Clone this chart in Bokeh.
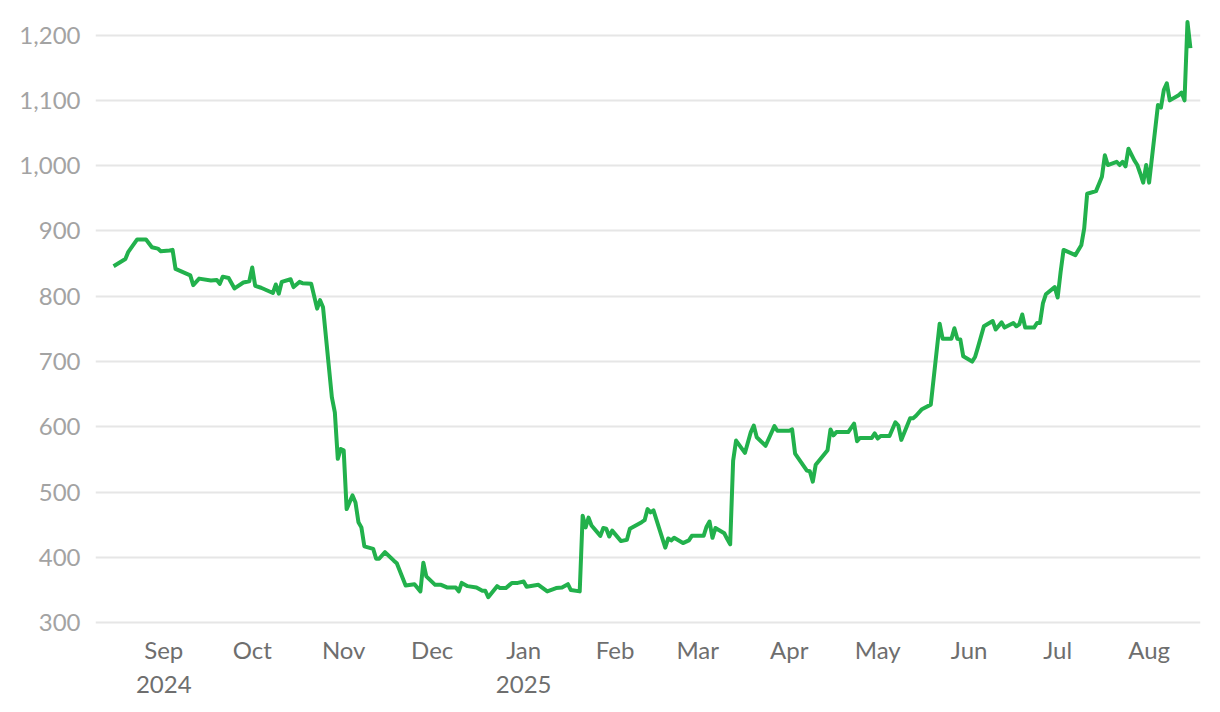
import pandas as pd
from bokeh.plotting import figure
from bokeh.models import FixedTicker, NumeralTickFormatter, Range1d
from bokeh.embed import file_html
from bokeh.resources import INLINE

dates = [
    "2024-08-29", "2024-09-02", "2024-09-03", "2024-09-06", "2024-09-09", "2024-09-11", "2024-09-13",
    "2024-09-14", "2024-09-17", "2024-09-18", "2024-09-19", "2024-09-24", "2024-09-25", "2024-09-27",
    "2024-10-01", "2024-10-03", "2024-10-04", "2024-10-05", "2024-10-07", "2024-10-09", "2024-10-12",
    "2024-10-14", "2024-10-15", "2024-10-16", "2024-10-18", "2024-10-22", "2024-10-23", "2024-10-24",
    "2024-10-25", "2024-10-28", "2024-10-29", "2024-10-31", "2024-11-01", "2024-11-04", "2024-11-06",
    "2024-11-07", "2024-11-08", "2024-11-11", "2024-11-12", "2024-11-13", "2024-11-14", "2024-11-15",
    "2024-11-16", "2024-11-18", "2024-11-19", "2024-11-20", "2024-11-21", "2024-11-22", "2024-11-25",
    "2024-11-26", "2024-11-27", "2024-11-29", "2024-12-02", "2024-12-03", "2024-12-06", "2024-12-09",
    "2024-12-11", "2024-12-12", "2024-12-13", "2024-12-16", "2024-12-18", "2024-12-20", "2024-12-23",
    "2024-12-24", "2024-12-25", "2024-12-27", "2024-12-30", "2025-01-01", "2025-01-02", "2025-01-03",
    "2025-01-06", "2025-01-07", "2025-01-09", "2025-01-11", "2025-01-13", "2025-01-15", "2025-01-16",
    "2025-01-20", "2025-01-23", "2025-01-26", "2025-01-28", "2025-01-30", "2025-01-31", "2025-02-03",
    "2025-02-04", "2025-02-05", "2025-02-06", "2025-02-07", "2025-02-10", "2025-02-11", "2025-02-12",
    "2025-02-13", "2025-02-14", "2025-02-17", "2025-02-19", "2025-02-20", "2025-02-24", "2025-02-25",
    "2025-02-26", "2025-02-27", "2025-02-28", "2025-03-04", "2025-03-05", "2025-03-06", "2025-03-07",
    "2025-03-10", "2025-03-12", "2025-03-13", "2025-03-17", "2025-03-18", "2025-03-19", "2025-03-20",
    "2025-03-21", "2025-03-24", "2025-03-25", "2025-03-26", "2025-03-27", "2025-03-28", "2025-03-31",
    "2025-04-02", "2025-04-03", "2025-04-04", "2025-04-07", "2025-04-10", "2025-04-11", "2025-04-15",
    "2025-04-16", "2025-04-17", "2025-04-21", "2025-04-22", "2025-04-23", "2025-04-24", "2025-04-26",
    "2025-04-28", "2025-04-29", "2025-04-30", "2025-05-01", "2025-05-05", "2025-05-07", "2025-05-08",
    "2025-05-09", "2025-05-13", "2025-05-14", "2025-05-15", "2025-05-16", "2025-05-19", "2025-05-21",
    "2025-05-22", "2025-05-23", "2025-05-26", "2025-05-27", "2025-05-28", "2025-05-30", "2025-06-02",
    "2025-06-05", "2025-06-06", "2025-06-09", "2025-06-10", "2025-06-11", "2025-06-12", "2025-06-13",
    "2025-06-16", "2025-06-17", "2025-06-18", "2025-06-20", "2025-06-23", "2025-06-24", "2025-06-26",
    "2025-06-27", "2025-06-30", "2025-07-01", "2025-07-02", "2025-07-03", "2025-07-04", "2025-07-07",
    "2025-07-08", "2025-07-09", "2025-07-10", "2025-07-11", "2025-07-14", "2025-07-15", "2025-07-16",
    "2025-07-17", "2025-07-21", "2025-07-23", "2025-07-24", "2025-07-25", "2025-07-28", "2025-07-29",
    "2025-07-30", "2025-07-31", "2025-08-01", "2025-08-04", "2025-08-05", "2025-08-06", "2025-08-07",
    "2025-08-08", "2025-08-10", "2025-08-11", "2025-08-12", "2025-08-13", "2025-08-14", "2025-08-15",
    "2025-08-18", "2025-08-19", "2025-08-20", "2025-08-21", "2025-08-22", "2025-08-25", "2025-08-26",
    "2025-08-27", "2025-08-28", "2025-08-29",
]

prices = [
    846, 857, 868, 887, 887, 875, 873,
    869, 870, 871, 842, 832, 817, 827,
    824, 825, 819, 830, 828, 812, 821,
    823, 844, 816, 813, 805, 818, 804,
    822, 826, 814, 822, 820, 819, 781,
    794, 783, 645, 622, 551, 566, 564,
    474, 495, 484, 454, 446, 417, 413,
    398, 398, 408, 395, 391, 357, 359,
    348, 392, 371, 358, 358, 354, 354,
    348, 361, 356, 354, 349, 349, 339,
    356, 353, 353, 361, 361, 363, 355,
    358, 348, 353, 354, 359, 350, 348,
    464, 446, 461, 449, 433, 445, 444,
    432, 441, 425, 427, 444, 454, 457,
    474, 469, 472, 415, 429, 426, 430,
    422, 426, 433, 433, 447, 455, 430,
    445, 437, 428, 420, 548, 579, 560,
    592, 602, 584, 571, 601, 594, 594,
    596, 559, 533, 532, 516, 542, 553,
    564, 596, 587, 592, 592, 605, 578,
    583, 583, 590, 582, 586, 586, 607,
    602, 580, 613, 613, 617, 627, 634,
    758, 735, 735, 751, 735, 734, 708,
    700, 707, 722, 754, 762, 749, 760,
    752, 759, 754, 757, 772, 752, 752,
    759, 759, 789, 803, 814, 798, 837,
    871, 863, 878, 904, 957, 961, 972,
    983, 1016, 1001, 1006, 1001, 1006, 999,
    1026, 1008, 1001, 988, 974, 1001, 974,
    1093, 1089, 1116, 1126, 1100, 1108, 1112,
    1100, 1220, 1180,
]

y_ticks = [300, 400, 500, 600, 700, 800, 900, 1000, 1100, 1200]

tick_dates = ["2024-09-15", "2024-10-15", "2024-11-15", "2024-12-15", "2025-01-15", "2025-02-15",
              "2025-03-15", "2025-04-15", "2025-05-15", "2025-06-15", "2025-07-15", "2025-08-15"]
tick_labels = ["Sep\n2024", "Oct", "Nov", "Dec", "Jan\n2025", "Feb",
               "Mar", "Apr", "May", "Jun", "Jul", "Aug"]

x = pd.to_datetime(dates)

p = figure(
    width=1204, height=704, x_axis_type="datetime",
    output_backend="svg", toolbar_location=None,
    x_range=Range1d(pd.Timestamp("2024-08-22 21:00"), pd.Timestamp("2025-09-01 10:00")),
    y_range=Range1d(285, 1230),
    min_border_left=95, min_border_right=4, min_border_top=15, min_border_bottom=72,
)

p.line(x, prices, line_color="#22b14c", line_width=4, line_join="round")

tick_ms = [float(pd.Timestamp(d).value // 10**6) for d in tick_dates]
p.xaxis.ticker = FixedTicker(ticks=tick_ms)
p.xaxis.major_label_overrides = {t: lab for t, lab in zip(tick_ms, tick_labels)}
p.yaxis.ticker = FixedTicker(ticks=y_ticks)
p.yaxis.formatter = NumeralTickFormatter(format="0,0")

p.outline_line_color = None
p.xgrid.grid_line_color = None
p.ygrid.grid_line_color = "#e6e6e6"
p.ygrid.grid_line_width = 2

for ax in (p.xaxis, p.yaxis):
    ax.axis_line_color = None
    ax.major_tick_line_color = None
    ax.minor_tick_line_color = None
    ax.major_tick_out = 0
    ax.major_label_text_font = "Lato"
    ax.major_label_text_font_size = "24px"

p.yaxis.major_label_text_color = "#a3a3a3"
p.yaxis.major_label_standoff = 15
p.xaxis.major_label_text_color = "#6e6e6e"
p.xaxis.major_label_standoff = 2
p.xaxis.major_label_text_line_height = 1.2

open("out.html", "w").write(file_html(p, INLINE))
